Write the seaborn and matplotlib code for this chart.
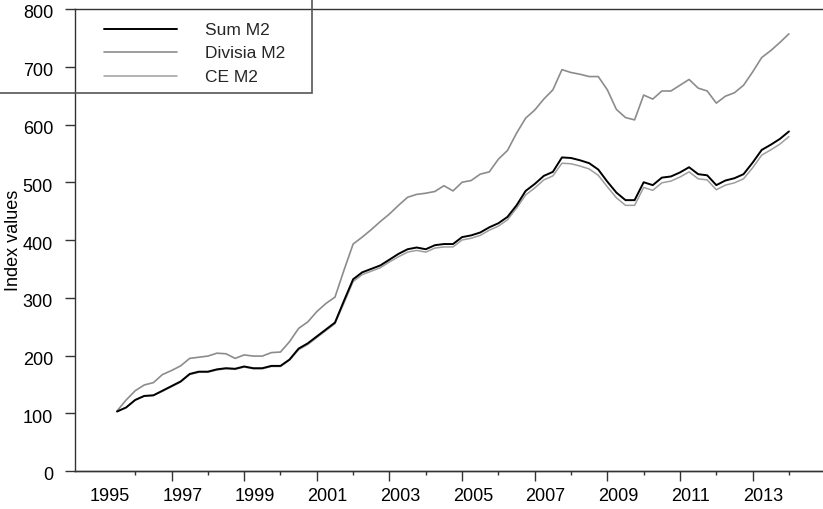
import numpy as np
import pandas as pd
import matplotlib
matplotlib.use("Agg")
import matplotlib.pyplot as plt
import matplotlib.transforms as mtransforms
from matplotlib.patches import Rectangle
import seaborn as sns

# ---- data (quarterly index values) ----
quarters = pd.period_range("1995Q1", periods=75, freq="Q").astype(str)

sum_m2 = [103, 110, 123, 130, 131, 139, 147, 155, 168, 172,
          172, 176, 178, 177, 181, 178, 178, 182, 182, 193,
          212, 221, 233, 245, 257, 295, 332, 344, 350, 356,
          366, 376, 384, 387, 384, 391, 393, 393, 405, 408,
          413, 422, 429, 440, 460, 485, 497, 511, 518, 543,
          542, 538, 533, 522, 501, 482, 469, 469, 500, 495,
          508, 510, 517, 526, 514, 512, 495, 503, 507, 514,
          534, 556, 565, 575, 588]

divisia_m2 = [104, 123, 139, 149, 153, 167, 174, 182, 195, 197,
              199, 204, 203, 195, 201, 199, 199, 205, 206, 224,
              247, 258, 276, 290, 301, 348, 393, 405, 418, 432,
              445, 460, 474, 479, 481, 484, 494, 485, 500, 503,
              514, 518, 540, 555, 585, 611, 625, 644, 660, 695,
              690, 687, 683, 683, 660, 626, 612, 608, 651, 644,
              658, 658, 668, 678, 663, 658, 637, 649, 655, 668,
              691, 716, 728, 742, 757]

ce_m2 = [103, 110, 123, 130, 131, 138, 146, 154, 167, 171,
         171, 175, 177, 176, 180, 177, 177, 181, 181, 192,
         210, 219, 231, 243, 255, 291, 328, 340, 346, 352,
         362, 371, 379, 382, 379, 386, 388, 388, 400, 403,
         408, 417, 424, 435, 455, 478, 490, 504, 511, 533,
         532, 528, 523, 512, 492, 473, 460, 460, 491, 486,
         499, 502, 509, 518, 506, 504, 487, 495, 499, 506,
         525, 547, 556, 566, 579]

year_labels = ["1995", "1997", "1999", "2001", "2003",
               "2005", "2007", "2009", "2011", "2013"]
y_ticks = [0, 100, 200, 300, 400, 500, 600, 700, 800]

df = pd.DataFrame({"q": np.arange(len(quarters)),
                   "Sum M2": sum_m2,
                   "Divisia M2": divisia_m2,
                   "CE M2": ce_m2})

sns.set_theme(style="white")
plt.rcParams["font.family"] = ["Liberation Sans", "DejaVu Sans"]

W, H = 823, 509
fig = plt.figure(figsize=(W / 100, H / 100), dpi=100)
ax = fig.add_axes([75 / W, 1 - 471 / H, 748 / W, 462 / H])

sns.lineplot(data=df, x="q", y="Divisia M2", color="#8c8c8c", lw=1.2,
             label="Divisia M2", ax=ax)
sns.lineplot(data=df, x="q", y="CE M2", color="#9e9e9e", lw=1.1,
             label="CE M2", ax=ax)
sns.lineplot(data=df, x="q", y="Sum M2", color="#000000", lw=1.4,
             label="Sum M2", ax=ax)

ax.set_xlim(-4.63, 77.75)
ax.set_ylim(0, 800)
ax.set_xlabel("")
ax.set_ylabel("Index values", fontsize=13, color="#000000")
ax.yaxis.set_label_coords(-0.0709, 0.5)

n = len(quarters)
label_pos = [8 * k - 0.8 for k in range(len(year_labels))]
ax.set_xticks(label_pos, labels=year_labels)
ax.tick_params(axis="x", which="major", length=0, pad=12, labelsize=13,
               labelcolor="#000000")
long_pos = list(range(6, n, 8))
short_pos = list(range(2, n, 8))
ax.set_xticks(long_pos, minor=True)
ax.tick_params(axis="x", which="minor", bottom=True, length=7.2, width=1.0,
               color="#333333", direction="out")

sec = ax.secondary_xaxis("bottom")
sec.set_xticks(short_pos)
sec.tick_params(axis="x", length=3.2, width=1.0, color="#333333",
                direction="out", labelbottom=False)
sec.spines["bottom"].set_color("#333333")
sec.spines["bottom"].set_linewidth(1.0)

ax.set_yticks(y_ticks)
ax.tick_params(axis="y", which="major", left=True, length=7.2, width=1.0,
               color="#333333", direction="out", pad=8.6, labelsize=13,
               labelcolor="#000000")
offset = mtransforms.ScaledTranslation(0, -3 / 100, fig.dpi_scale_trans)
for lbl in ax.get_yticklabels():
    lbl.set_transform(lbl.get_transform() + offset)

for side in ["left", "bottom", "top"]:
    ax.spines[side].set_visible(True)
    ax.spines[side].set_color("#333333")
    ax.spines[side].set_linewidth(1.0)
ax.spines["right"].set_visible(False)

# legend
handles, labels = ax.get_legend_handles_labels()
order = [labels.index(s) for s in ["Sum M2", "Divisia M2", "CE M2"]]
ax.get_legend().remove()
fig.legend([handles[i] for i in order], [labels[i] for i in order],
           loc="upper left", bbox_to_anchor=(104 / W, 1 - 23 / H),
           frameon=False, fontsize=12.5, handlelength=4.2,
           handletextpad=1.6, labelspacing=0.47, borderpad=0,
           borderaxespad=0)
fig.add_artist(Rectangle((-5 / W, 1 - 93 / H), 317 / W, 98 / H,
                         transform=fig.transFigure, fill=False,
                         ec="#555555", lw=1.2))

fig.savefig("out.png", dpi=100)
